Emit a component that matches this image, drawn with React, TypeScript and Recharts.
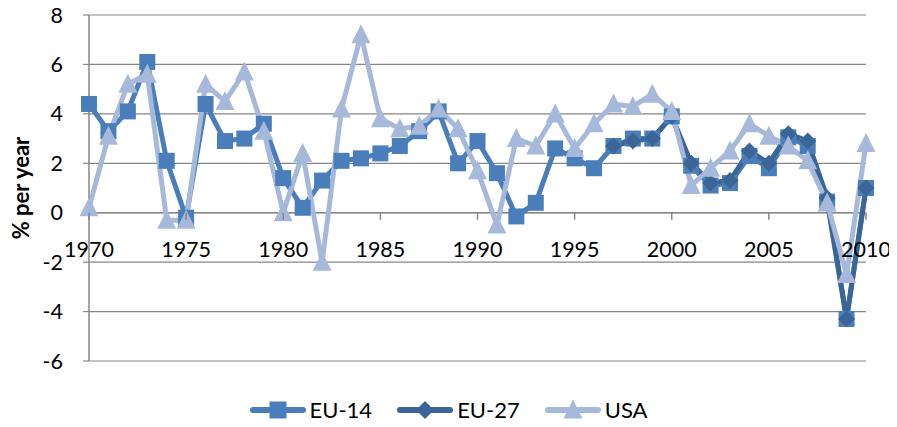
import React from 'react';
import { LineChart, Line, XAxis, YAxis, CartesianGrid, ReferenceLine, Legend, Label } from 'recharts';

const years = [
  1970, 1971, 1972, 1973, 1974, 1975, 1976, 1977, 1978, 1979,
  1980, 1981, 1982, 1983, 1984, 1985, 1986, 1987, 1988, 1989,
  1990, 1991, 1992, 1993, 1994, 1995, 1996, 1997, 1998, 1999,
  2000, 2001, 2002, 2003, 2004, 2005, 2006, 2007, 2008, 2009, 2010,
];

const eu14 = [
  4.4, 3.3, 4.1, 6.1, 2.1, -0.2, 4.4, 2.9, 3.0, 3.6,
  1.4, 0.2, 1.3, 2.1, 2.2, 2.4, 2.7, 3.3, 4.1, 2.0,
  2.9, 1.6, -0.15, 0.4, 2.6, 2.2, 1.8, 2.7, 3.0, 3.0,
  3.9, 1.9, 1.1, 1.2, 2.3, 1.8, 3.05, 2.7, 0.45, -4.3, 1.0,
];

const eu27 = [
  null, null, null, null, null, null, null, null, null, null,
  null, null, null, null, null, null, null, null, null, null,
  null, null, null, null, null, null, null, 2.7, 2.9, 3.0,
  3.9, 2.0, 1.2, 1.3, 2.5, 2.0, 3.2, 2.9, 0.6, -4.3, 1.0,
];

const usa = [
  0.2, 3.1, 5.2, 5.6, -0.3, -0.3, 5.2, 4.5, 5.7, 3.3,
  0.0, 2.4, -2.0, 4.2, 7.2, 3.8, 3.4, 3.5, 4.2, 3.4,
  1.7, -0.5, 3.0, 2.7, 4.0, 2.6, 3.6, 4.4, 4.3, 4.8,
  4.1, 1.1, 1.8, 2.5, 3.6, 3.1, 2.7, 2.1, 0.4, -2.5, 2.8,
];

const xTicks = [1970, 1975, 1980, 1985, 1990, 1995, 2000, 2005, 2010];
const yTicks = [-6, -4, -2, 0, 2, 4, 6, 8];
const seriesNames = ['EU-14', 'EU-27', 'USA'];
const yTitle = '% per year';

const data = years.map((year, i) => ({ year, eu14: eu14[i], eu27: eu27[i], usa: usa[i] }));

const C14 = '#4a7ebb';
const C27 = '#3b6597';
const CUS = '#a7b9da';
const GRID = '#868686';
const FONT = 'Lato, "Liberation Sans", sans-serif';

const W = 897;
const H = 427;
const MARGIN = { top: 15, right: 31, left: 8, bottom: 0 };
const Y_AXIS_W = 81;
const X_AXIS_H = 32;
const LEGEND_H = 34;
const Y_MIN = -6;
const Y_MAX = 8;
const PLOT_H = H - MARGIN.top - MARGIN.bottom - X_AXIS_H - LEGEND_H;
const ZERO_FROM_BOTTOM = ((0 - Y_MIN) / (Y_MAX - Y_MIN)) * PLOT_H;

const XTick = (props: any) => {
  const { x, y, payload } = props;
  const zeroY = y - ZERO_FROM_BOTTOM;
  return (
    <g>
      <line x1={x} x2={x} y1={zeroY} y2={zeroY + 7} stroke={GRID} strokeWidth={1.5} />
      <text x={x} y={zeroY + 44} textAnchor="middle" fontFamily={FONT} fontSize={21.5} fill="#000">
        {payload.value}
      </text>
    </g>
  );
};

const squareShape = (cx: number, cy: number, color: string, s: number) => (
  <rect x={cx - s / 2} y={cy - s / 2} width={s} height={s} fill={color} />
);
const diamondShape = (cx: number, cy: number, color: string, s: number) => (
  <polygon points={`${cx},${cy - s / 2} ${cx + s / 2},${cy} ${cx},${cy + s / 2} ${cx - s / 2},${cy}`} fill={color} />
);
const triangleShape = (cx: number, cy: number, color: string, s: number) => (
  <polygon
    points={`${cx},${cy - s * 0.55} ${cx + s / 2},${cy + s * 0.45} ${cx - s / 2},${cy + s * 0.45}`}
    fill={color}
  />
);

const makeDot = (shape: (cx: number, cy: number, c: string, s: number) => any, color: string, size: number) =>
  (p: any) => {
    const { cx, cy, index, value } = p;
    if (cx == null || cy == null || value == null || Number.isNaN(cy)) return <g key={`d${index}`} />;
    return <g key={`d${index}`}>{shape(cx, cy, color, size)}</g>;
  };

const legendItems = [
  { name: seriesNames[0], color: C14, shape: squareShape, size: 17 },
  { name: seriesNames[1], color: C27, shape: diamondShape, size: 18 },
  { name: seriesNames[2], color: CUS, shape: triangleShape, size: 19 },
];

const LegendContent = () => (
  <div
    style={{
      display: 'flex',
      justifyContent: 'center',
      alignItems: 'center',
      height: LEGEND_H,
      paddingLeft: 22,
      fontFamily: FONT,
      fontSize: 22,
      color: '#000',
    }}
  >
    {legendItems.map((it, i) => (
      <div key={it.name} style={{ display: 'flex', alignItems: 'center', marginRight: i < 2 ? 24 : 0 }}>
        <svg width={58} height={22} style={{ display: 'block' }}>
          <line x1={4} x2={54} y1={11} y2={11} stroke={it.color} strokeWidth={6} strokeLinecap="round" />
          {it.shape(29, 11, it.color, it.size)}
        </svg>
        <span style={{ marginLeft: 3, lineHeight: '22px' }}>{it.name}</span>
      </div>
    ))}
  </div>
);

export default function App() {
  return (
    <div style={{ margin: -8, width: W, height: H }}>
      <LineChart width={W} height={H} data={data} margin={MARGIN}>
        <CartesianGrid vertical={false} stroke={GRID} strokeWidth={1.2} />
        <XAxis
          dataKey="year"
          type="number"
          domain={[1970, 2010]}
          ticks={xTicks}
          interval={0}
          axisLine={false}
          tickLine={false}
          tickSize={0}
          tickMargin={0}
          height={X_AXIS_H}
          tick={<XTick />}
        />
        <YAxis
          type="number"
          domain={[Y_MIN, Y_MAX]}
          ticks={yTicks}
          interval={0}
          width={Y_AXIS_W}
          axisLine={{ stroke: GRID, strokeWidth: 1.5 }}
          tickLine={{ stroke: GRID, strokeWidth: 1.2 }}
          tickSize={6}
          tickMargin={20}
          tick={{ fill: '#000', fontSize: 21.5, fontFamily: FONT }}
        >
          <Label
            value={yTitle}
            angle={-90}
            position="insideLeft"
            offset={13}
            textAnchor="middle"
            fontFamily={FONT}
            fontSize={22}
            fontWeight={700}
            fill="#000"
          />
        </YAxis>
        <ReferenceLine y={0} stroke={GRID} strokeWidth={1.5} />
        <Legend verticalAlign="bottom" height={LEGEND_H} content={<LegendContent />} />
        <Line
          type="linear"
          dataKey="eu14"
          name={seriesNames[0]}
          stroke={C14}
          strokeWidth={5}
          strokeLinejoin="round"
          dot={makeDot(squareShape, C14, 16)}
          activeDot={false}
          isAnimationActive={false}
        />
        <Line
          type="linear"
          dataKey="eu27"
          name={seriesNames[1]}
          stroke={C27}
          strokeWidth={5}
          strokeLinejoin="round"
          dot={makeDot(diamondShape, C27, 17)}
          activeDot={false}
          isAnimationActive={false}
        />
        <Line
          type="linear"
          dataKey="usa"
          name={seriesNames[2]}
          stroke={CUS}
          strokeWidth={5}
          strokeLinejoin="round"
          dot={makeDot(triangleShape, CUS, 19)}
          activeDot={false}
          isAnimationActive={false}
        />
      </LineChart>
    </div>
  );
}
